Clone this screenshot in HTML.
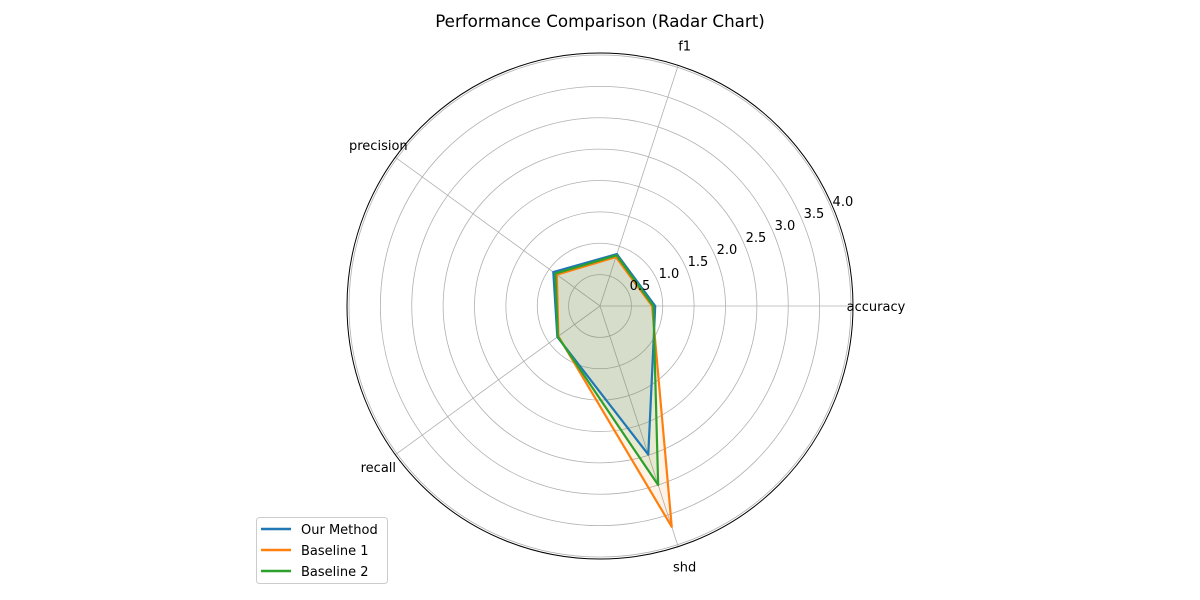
<!DOCTYPE html>
<html><head><meta charset="utf-8"><style>
body{margin:0;background:#fff;}
svg{display:block;font-family:"DejaVu Sans","Liberation Sans",sans-serif;}
</style></head><body>
<svg id="chart" width="1200" height="600" viewBox="0 0 1200 600">
<text x="600" y="27" text-anchor="middle" font-size="16.7">Performance Comparison (Radar Chart)</text>
<g id="grid"></g>
<g id="series"></g>
<g id="labels"></g>
<g>
<rect x="256.5" y="517.5" width="131" height="66" rx="3" fill="#fff" fill-opacity="0.8" stroke="#ccc"/>
<g><line x1="261" y1="529" x2="291" y2="529" stroke="#1f77b4" stroke-width="2.5"/><text x="301" y="534" font-size="13">Our Method</text></g>
<g><line x1="261" y1="550" x2="291" y2="550" stroke="#ff7f0e" stroke-width="2.5"/><text x="301" y="555" font-size="13">Baseline 1</text></g>
<g><line x1="261" y1="571" x2="291" y2="571" stroke="#2ca02c" stroke-width="2.5"/><text x="301" y="576" font-size="13">Baseline 2</text></g>
</g>
</svg>
<script>
const categories = ["accuracy","f1","precision","recall","shd"];
const ourMethod = [0.88, 0.87, 0.92, 0.84, 2.49];
const baseline1 = [0.83, 0.82, 0.85, 0.82, 3.70];
const baseline2 = [0.85, 0.85, 0.88, 0.83, 3.00];
const rTicks = [0.5,1.0,1.5,2.0,2.5,3.0,3.5,4.0];
const rTickLabels = ["0.5","1.0","1.5","2.0","2.5","3.0","3.5","4.0"];

const NS="http://www.w3.org/2000/svg";
const cx=600, cy=306, scale=62.75, spineR=253;
function rad(v){return v*scale;}
function ang(i){return i*2*Math.PI/categories.length;}
function pt(v,i){const r=rad(v),a=ang(i);return [cx+r*Math.cos(a), cy-r*Math.sin(a)];}
function mk(tag,attrs,parent){const e=document.createElementNS(NS,tag);for(const k in attrs)e.setAttribute(k,attrs[k]);parent.appendChild(e);return e;}
const grid=document.getElementById('grid'), ser=document.getElementById('series'), lab=document.getElementById('labels');
rTicks.forEach((t,k)=>{
  const c=mk('circle',{cx:cx,cy:cy,r:rad(t),fill:'none',stroke:'#b0b0b0','stroke-width':0.8},grid);
  
  
});
categories.forEach((c,i)=>{
  const a=ang(i);
  const l=mk('line',{x1:cx,y1:cy,x2:cx+spineR*Math.cos(a),y2:cy-spineR*Math.sin(a),stroke:'#b0b0b0','stroke-width':0.8},grid);
  
  
});
const sp=mk('circle',{cx:cx,cy:cy,r:spineR,fill:'none',stroke:'#000','stroke-width':1},grid);


const sets=[["our-method",ourMethod,"#1f77b4"],["baseline-1",baseline1,"#ff7f0e"],["baseline-2",baseline2,"#2ca02c"]];
sets.forEach(([n,vals,col])=>{
  const pts=vals.map((v,i)=>pt(v,i).join(',')).join(' ');
  const f=mk('polygon',{points:pts,fill:col,'fill-opacity':0.1,stroke:'none'},ser);
  
  
});
sets.forEach(([n,vals,col])=>{
  const pts=vals.map((v,i)=>pt(v,i).join(',')).join(' ');
  const p=mk('polygon',{points:pts,fill:'none',stroke:col,'stroke-width':2.2,'stroke-linejoin':'round'},ser);
  
  
});
const ta=22.5*Math.PI/180;
rTicks.forEach((t,k)=>{
  const x=cx+rad(t)*Math.cos(ta)+11, y=cy-rad(t)*Math.sin(ta)-9;
  const e=mk('text',{x:x,y:y+5,'text-anchor':'middle','font-size':13},lab);
  e.textContent=rTickLabels[k];
  
  
});
categories.forEach((c,i)=>{
  const a=ang(i), R=spineR+21;
  let x=cx+R*Math.cos(a), y=cy-R*Math.sin(a);
  if(i===0) x=cx+spineR+23;
  const e=mk('text',{x:x,y:y+5,'text-anchor':'middle','font-size':13},lab);
  e.textContent=c;
  
  
});
</script>
</body></html>
